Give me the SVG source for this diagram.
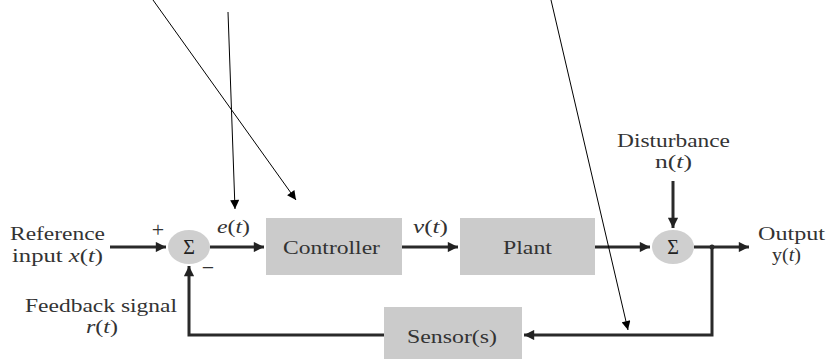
<svg xmlns="http://www.w3.org/2000/svg" width="828" height="359" viewBox="0 0 828 359">
<defs>
<marker id="thick" viewBox="0 0 10 10" refX="10" refY="5" markerWidth="4" markerHeight="3.4" markerUnits="strokeWidth" orient="auto">
<path d="M0,0 L10,5 L0,10 z" fill="#222"/>
</marker>
<marker id="thin" viewBox="0 0 10 10" refX="10" refY="5" markerWidth="10" markerHeight="9" markerUnits="strokeWidth" orient="auto">
<path d="M0,0 L10,5 L0,10 z" fill="#000"/>
</marker>
</defs>
<style>
.box{fill:#cbcbcb}
.sum{fill:#cfcfcf}
.t{font-family:"Liberation Serif","Times New Roman",serif;font-size:18px;fill:#333}
.i{font-style:italic}
.s{font-family:"Liberation Serif","Times New Roman",serif;font-size:20px;fill:#222}
.pm{font-family:"Liberation Serif","Times New Roman",serif;font-size:22px;fill:#333}
.w{stroke:#2a2a2a;stroke-width:3;fill:none}
.a{stroke:#000;stroke-width:1;fill:none}
</style>
<rect width="828" height="359" fill="#fff"/>
<g id="connectors">
<line class="w" x1="110" y1="247" x2="166" y2="247" marker-end="url(#thick)"/>
<line class="w" x1="210" y1="247" x2="264" y2="247" marker-end="url(#thick)"/>
<line class="w" x1="402" y1="247" x2="458" y2="247" marker-end="url(#thick)"/>
<line class="w" x1="595" y1="247" x2="650" y2="247" marker-end="url(#thick)"/>
<line class="w" x1="673" y1="181" x2="673" y2="228" marker-end="url(#thick)"/>
<line class="w" x1="694" y1="247" x2="749" y2="247" marker-end="url(#thick)"/>
<polyline class="w" points="712,247 712,335 524,335" marker-end="url(#thick)"/>
<circle cx="712" cy="247" r="2.5" fill="#2a2a2a"/>
<polyline class="w" points="384,335 189,335 189,266" marker-end="url(#thick)"/>
<line class="a" x1="153" y1="0" x2="296" y2="200" marker-end="url(#thin)"/>
<line class="a" x1="228" y1="12" x2="235" y2="209" marker-end="url(#thin)"/>
<line class="a" x1="551" y1="0" x2="628" y2="330" marker-end="url(#thin)"/>
</g>
<g id="sum1">
<ellipse class="sum" cx="189" cy="247" rx="21" ry="17"/>
<text class="s" x="189" y="254" text-anchor="middle">Σ</text>
<text class="pm" x="158" y="237" text-anchor="middle">+</text>
<text class="pm" x="208" y="275" text-anchor="middle">−</text>
</g>
<g id="controller">
<rect class="box" x="266" y="218" width="136" height="57"/>
<text class="t" x="283" y="254" textLength="97" lengthAdjust="spacingAndGlyphs">Controller</text>
</g>
<g id="plant">
<rect class="box" x="460" y="218" width="135" height="57"/>
<text class="t" x="503" y="254" textLength="49" lengthAdjust="spacingAndGlyphs">Plant</text>
</g>
<g id="sum2">
<ellipse class="sum" cx="673" cy="247" rx="21" ry="17"/>
<text class="s" x="673" y="254" text-anchor="middle">Σ</text>
</g>
<g id="sensor">
<rect class="box" x="384" y="307" width="138" height="52"/>
<text class="t" x="407" y="343" textLength="90" lengthAdjust="spacingAndGlyphs">Sensor(s)</text>
</g>
<g id="labels">
<text class="t" x="10" y="240" textLength="95" lengthAdjust="spacingAndGlyphs">Reference</text>
<text class="t" x="12" y="262" textLength="91" lengthAdjust="spacingAndGlyphs">input <tspan class="i">x</tspan>(<tspan class="i">t</tspan>)</text>
<text class="t" x="25" y="312" textLength="152" lengthAdjust="spacingAndGlyphs">Feedback signal</text>
<text class="t" x="86" y="333" textLength="32" lengthAdjust="spacingAndGlyphs"><tspan class="i">r</tspan>(<tspan class="i">t</tspan>)</text>
<text class="t" x="217" y="233" textLength="33" lengthAdjust="spacingAndGlyphs"><tspan class="i">e</tspan>(<tspan class="i">t</tspan>)</text>
<text class="t" x="413" y="233" textLength="35" lengthAdjust="spacingAndGlyphs"><tspan class="i">v</tspan>(<tspan class="i">t</tspan>)</text>
<text class="t" x="617" y="147" textLength="113" lengthAdjust="spacingAndGlyphs">Disturbance</text>
<text class="t" x="655" y="168" textLength="37" lengthAdjust="spacingAndGlyphs">n(<tspan class="i">t</tspan>)</text>
<text class="t" x="758" y="240" textLength="67" lengthAdjust="spacingAndGlyphs">Output</text>
<text class="t" x="772" y="261" textLength="29" lengthAdjust="spacingAndGlyphs">y(<tspan class="i">t</tspan>)</text>
</g>
</svg>
